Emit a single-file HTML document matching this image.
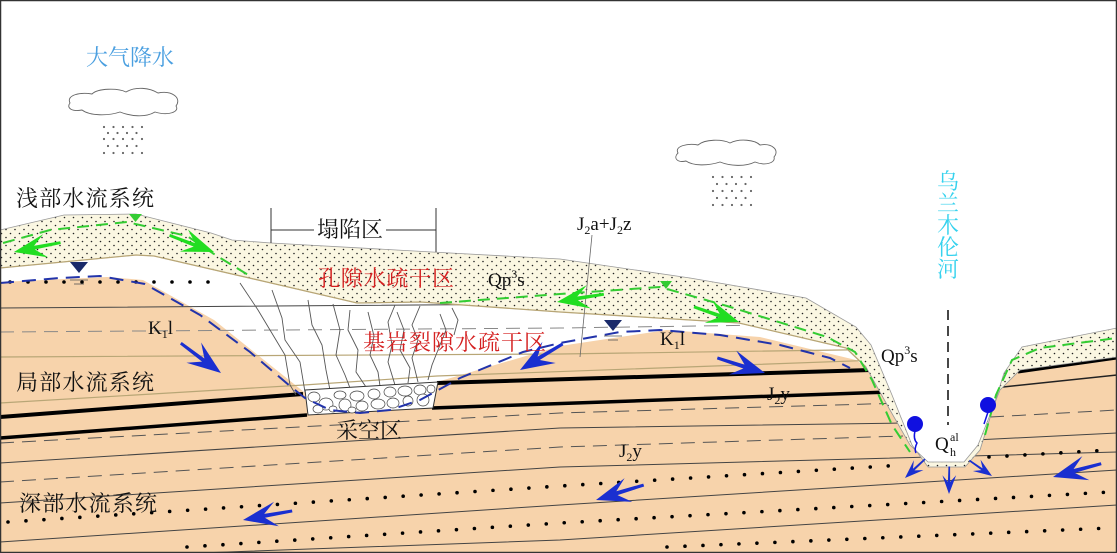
<!DOCTYPE html>
<html><head><meta charset="utf-8"><style>
html,body{margin:0;padding:0;background:#fff}
svg{display:block}
text{font-family:"Liberation Serif","Noto Serif CJK SC","Noto Sans CJK SC",serif}
</style></head><body>
<svg width="1117" height="553" viewBox="0 0 1117 553" xmlns="http://www.w3.org/2000/svg">
<defs>
<pattern id="sand" width="9" height="8" patternUnits="userSpaceOnUse">
<rect width="9" height="8" fill="#fbf7e2"/>
<circle cx="1.5" cy="1.5" r="0.8" fill="#222"/>
<circle cx="6" cy="5.5" r="0.8" fill="#222"/>
</pattern>
<clipPath id="below">
<polygon points="0,268 136,255 154,256 271,283 357,303 421,302 560,312 739,323 846,348 866,367 890,410 910,445 928,462 964,462 978,445 1000,390 1020,370 1117,357 1117,553 0,553"/>
</clipPath>
<g id="ar"><path d="M0,0 L-34,-13 L-22,-2 L-50,-2 L-50,1 L-22,2 L-34,12 Z"/></g>
</defs>

<polygon fill="#f7d3ab" points="0,282 107,277 143,280 214,320 304,392 437,382 560,346 667,330 760,337 856,360 866,367 890,410 910,445 928,462 964,462 978,445 1000,390 1020,370 1117,357 1117,553 0,553"/>

<g clip-path="url(#below)" fill="none">
<polyline points="0,308 560,304 1117,298" stroke="#444" stroke-width="1"/>
<polyline points="0,332 560,328 1117,320" stroke="#888" stroke-width="1" stroke-dasharray="14,8"/>
<polyline points="0,357 560,354 1117,346" stroke="#b8a676" stroke-width="1.2"/>
<polyline points="0,403 304,385 437,376 880,360" stroke="#b8a676" stroke-width="1.2"/>
<polyline points="0,417 303,394" stroke="#000" stroke-width="4"/>
<polyline points="437,383 871,370" stroke="#000" stroke-width="4"/>
<polyline points="0,438 307,415" stroke="#000" stroke-width="3.5"/>
<polyline points="432,408 889,392" stroke="#000" stroke-width="3.5"/>
<polyline points="1018,372 1117,358" stroke="#000" stroke-width="3"/>
<polyline points="1003,387 1117,375" stroke="#222" stroke-width="1.5"/>
<polyline points="0,443 560,413 903,403" stroke="#555" stroke-width="1" stroke-dasharray="14,8"/>
<polyline points="990,417 1117,410" stroke="#555" stroke-width="1" stroke-dasharray="14,8"/>
<polyline points="0,463 560,428 903,423" stroke="#444" stroke-width="1"/>
<polyline points="975,440 1117,433" stroke="#444" stroke-width="1"/>
<polyline points="0,482 560,447 903,436" stroke="#555" stroke-width="1" stroke-dasharray="14,8"/>
<polyline points="0,503 560,467 1117,452" stroke="#444" stroke-width="1"/>
<polyline points="0,542 560,505 1117,470" stroke="#444" stroke-width="1"/>
<polyline points="200,553 560,540 1117,505" stroke="#444" stroke-width="1"/>
<g stroke="#000" stroke-width="3.6" stroke-linecap="round" stroke-dasharray="0,18">
<polyline points="8,522 560,486 903,465"/>
<polyline points="989,457 1110,450"/>
<polyline points="187,547 560,523 1110,492"/>
<polyline points="667,547 1110,528"/>
</g>
</g>
<line x1="10" y1="282" x2="210" y2="282" stroke="#000" stroke-width="3.6" stroke-linecap="round" stroke-dasharray="0,18"/>

<g stroke="#555" stroke-width="0.9" fill="none">
<polyline points="240,283 258,310 270,330 285,355 290,385 296,395"/>
<polyline points="272,290 282,318 285,340 300,362 305,392"/>
<polyline points="308,300 312,325 322,345 326,370 330,390"/>
<polyline points="333,304 340,330 336,355 345,375 350,388"/>
<polyline points="350,310 348,330 358,350 356,372 366,387"/>
<polyline points="368,312 374,336 370,355 378,372 380,386"/>
<polyline points="395,305 388,322 392,345 388,362 395,385"/>
<polyline points="397,312 404,330 400,350 410,368 408,383"/>
<polyline points="420,306 412,325 418,340 412,358 418,382"/>
<polyline points="440,314 446,330 440,345 432,365 428,380"/>
<polyline points="452,308 458,320 454,335"/>
</g>

<polygon points="305,390 438,382 433,408 308,415" fill="#fff" stroke="#333" stroke-width="1"/>
<g fill="#fff" stroke="#444" stroke-width="0.7">
<ellipse cx="314" cy="397" rx="6" ry="5"/><ellipse cx="326" cy="404" rx="7" ry="6"/><ellipse cx="318" cy="409" rx="5" ry="4"/>
<ellipse cx="340" cy="395" rx="6" ry="4"/><ellipse cx="345" cy="405" rx="6" ry="6"/><ellipse cx="357" cy="396" rx="7" ry="5"/>
<ellipse cx="362" cy="406" rx="6" ry="5"/><ellipse cx="374" cy="394" rx="6" ry="5"/><ellipse cx="378" cy="404" rx="7" ry="5"/>
<ellipse cx="390" cy="392" rx="6" ry="5"/><ellipse cx="393" cy="403" rx="6" ry="5"/><ellipse cx="405" cy="391" rx="7" ry="5"/>
<ellipse cx="408" cy="401" rx="5" ry="5"/><ellipse cx="420" cy="390" rx="6" ry="5"/><ellipse cx="423" cy="400" rx="6" ry="6"/>
<ellipse cx="431" cy="389" rx="4" ry="4"/><ellipse cx="333" cy="409" rx="4" ry="3"/><ellipse cx="352" cy="410" rx="4" ry="3"/>
</g>

<polygon fill="url(#sand)" stroke="#999" stroke-width="0.8" points="0,230 64,215 136,214 211,233 232,240 271,243 432,252 560,259 690,278 806,298 856,327 871,345 892,395 912,445 928,467 965,467 980,450 1004,373 1022,347 1117,328 1117,357 1020,370 1000,390 978,445 964,462 928,462 910,445 890,410 866,367 846,348 739,323 560,312 421,302 357,303 271,283 154,256 136,255 0,268"/>
<polyline fill="none" stroke="#b8a676" stroke-width="1.3" points="0,268 136,255 154,256 271,283 357,303 421,302 560,312 739,323 846,348 866,367"/>

<g fill="none" stroke="#33cc33" stroke-width="2" stroke-dasharray="12,7">
<polyline points="3,243 50,230 127,222 187,236 217,256 250,276"/>
<polyline points="440,303 560,294 660,287 727,306 827,337 855,352 872,380 892,425 910,452"/>
<polyline points="985,435 996,395 1012,360 1040,348 1117,338"/>
</g>

<polyline fill="none" stroke="#2233aa" stroke-width="2" stroke-dasharray="14,8" points="0,283 60,278 100,276 145,284 200,315 250,352 290,386 305,398 330,410 360,413 390,410 420,400 460,378 523,352 560,343 620,332 660,330 720,335 780,345 830,358 850,368"/>

<polygon points="70,262 88,262 79,273" fill="#1a2a6a"/>
<g stroke="#555" stroke-width="0.8"><line x1="70" y1="280" x2="88" y2="280"/><line x1="74" y1="284" x2="84" y2="284"/></g>
<polygon points="604,320 622,320 613,331" fill="#1a2a6a"/>
<g stroke="#555" stroke-width="0.8"><line x1="604" y1="336" x2="622" y2="336"/><line x1="608" y1="340" x2="618" y2="340"/></g>
<polygon points="129,214 142,214 135.5,222" fill="#33cc33"/>
<polygon points="660,281 672,281 666,289" fill="#33cc33"/>

<g stroke="#333" stroke-width="1"><line x1="271" y1="208" x2="271" y2="243"/><line x1="436" y1="208" x2="436" y2="252"/><line x1="271" y1="230" x2="314" y2="230"/><line x1="386" y1="230" x2="436" y2="230"/></g>
<line x1="592" y1="235" x2="580" y2="357" stroke="#666" stroke-width="0.8"/>
<line x1="948" y1="310" x2="948" y2="425" stroke="#333" stroke-width="1.8" stroke-dasharray="10,6"/>

<g fill="#1a2fd0">
<use href="#ar" transform="translate(221,373) rotate(36)"/>
<use href="#ar" transform="translate(520,370) rotate(148)"/>
<use href="#ar" transform="translate(765,373) rotate(17)"/>
<use href="#ar" transform="translate(243,520) rotate(169)"/>
<use href="#ar" transform="translate(596,500) rotate(162)"/>
<use href="#ar" transform="translate(1053,477) rotate(164)"/>
<use href="#ar" transform="translate(905,478) rotate(136) scale(0.55)"/>
<use href="#ar" transform="translate(949,494) rotate(90) scale(0.55)"/>
<use href="#ar" transform="translate(992,476) rotate(34) scale(0.55)"/>
</g>
<g fill="#22dd22">
<use href="#ar" transform="translate(14,252) rotate(168) scale(0.95)"/>
<use href="#ar" transform="translate(214,252) rotate(20) scale(0.95)"/>
<use href="#ar" transform="translate(557,302) rotate(170) scale(0.95)"/>
<use href="#ar" transform="translate(739,322) rotate(18) scale(0.95)"/>
</g>

<g fill="#1010e0"><circle cx="915" cy="424" r="8"/><circle cx="988" cy="405" r="8"/></g>
<g stroke="#1010e0" stroke-width="1.5" fill="none"><path d="M915,431 q-2,8 2,12 q-3,6 -1,10"/><path d="M988,412 q-2,6 -4,12"/></g>

<path d="M70,103 C66,95 80,92 92,94 C98,88 118,88 126,92 C136,86 150,88 158,93 C172,90 182,98 176,106 C180,112 168,116 155,112 C145,118 130,116 120,112 C108,116 90,116 82,110 C72,112 66,108 70,103 Z" fill="#fff" stroke="#666" stroke-width="0.9"/>
<path d="M678,153 C674,146 688,143 698,145 C705,139 722,139 730,143 C740,138 755,140 760,145 C772,143 780,150 774,157 C776,163 765,166 755,162 C745,167 730,166 720,162 C708,166 693,166 686,161 C677,163 673,158 678,153 Z" fill="#fff" stroke="#666" stroke-width="0.9"/>
<g fill="none" stroke="#666" stroke-width="2.2" stroke-linecap="round" stroke-dasharray="0,9.5">
<line x1="104" y1="127" x2="145" y2="127"/><line x1="108" y1="133" x2="145" y2="133"/><line x1="104" y1="139" x2="145" y2="139"/><line x1="108" y1="146" x2="145" y2="146"/><line x1="104" y1="153" x2="145" y2="153"/>
<line x1="713" y1="177" x2="754" y2="177"/><line x1="717" y1="184" x2="754" y2="184"/><line x1="713" y1="191" x2="754" y2="191"/><line x1="717" y1="198" x2="754" y2="198"/><line x1="713" y1="205" x2="754" y2="205"/>
</g>

<g font-size="22" fill="#111">
<text x="16" y="206" textLength="138">浅部水流系统</text>
<text x="16" y="390" textLength="138">局部水流系统</text>
<text x="19" y="511" textLength="138">深部水流系统</text>
<text x="317" y="237">塌陷区</text>
<text x="336" y="438">采空区</text>
</g>
<text x="86" y="65" font-size="22" fill="#4a9fe0">大气降水</text>
<g font-size="22" fill="#36d2ee" text-anchor="middle">
<text x="948" y="189">乌</text><text x="948" y="211">兰</text><text x="948" y="233">木</text><text x="948" y="255">伦</text><text x="948" y="277">河</text>
</g>
<g font-size="22" fill="#d42020">
<text x="318" y="286" textLength="136">孔隙水疏干区</text>
<text x="363" y="350" textLength="183">基岩裂隙水疏干区</text>
</g>
<g font-size="19" fill="#111">
<text x="488" y="286">Qp<tspan font-size="12" dy="-8">3</tspan><tspan dy="8">s</tspan></text>
<text x="881" y="362">Qp<tspan font-size="12" dy="-8">3</tspan><tspan dy="8">s</tspan></text>
<text x="148" y="334">K<tspan font-size="12" dy="4">1</tspan><tspan dy="-4">l</tspan></text>
<text x="660" y="345">K<tspan font-size="12" dy="4">1</tspan><tspan dy="-4">l</tspan></text>
<text x="577" y="230">J<tspan font-size="12" dy="4">2</tspan><tspan dy="-4">a+J</tspan><tspan font-size="12" dy="4">2</tspan><tspan dy="-4">z</tspan></text>
<text x="767" y="400">J<tspan font-size="12" dy="4">2</tspan><tspan dy="-4">y</tspan></text>
<text x="619" y="457">J<tspan font-size="12" dy="4">2</tspan><tspan dy="-4">y</tspan></text>
<text x="935" y="450">Q</text>
<text x="950" y="441" font-size="12">al</text>
<text x="950" y="456" font-size="12">h</text>
</g>

<rect x="0.5" y="0.5" width="1116" height="552" fill="none" stroke="#333" stroke-width="1.5"/>
</svg>
</body></html>
